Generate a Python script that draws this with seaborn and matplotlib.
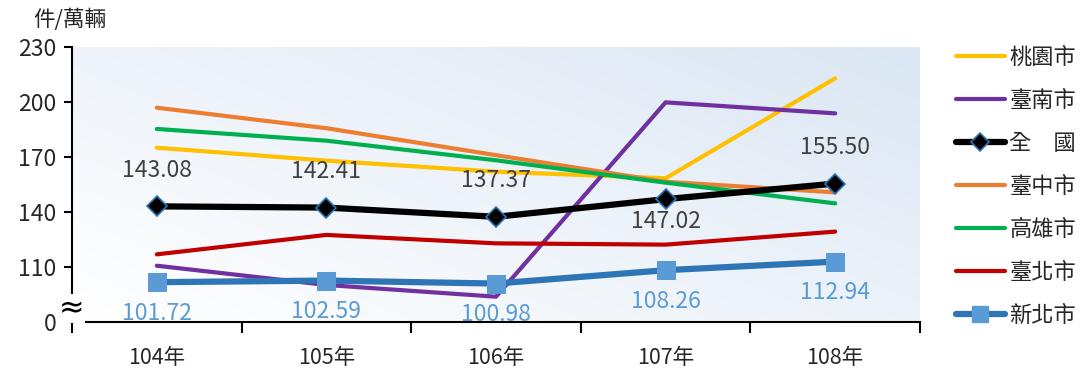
import numpy as np
import pandas as pd
import matplotlib
matplotlib.use('Agg')
import matplotlib.pyplot as plt
import seaborn as sns
from matplotlib.colors import LinearSegmentedColormap
from matplotlib.lines import Line2D

years = ['104年', '105年', '106年', '107年', '108年']

taoyuan = [175.1, 168.0, 162.0, 158.4, 212.9]
tainan = [110.7, 100.2, 93.8, 199.8, 193.8]
national = [143.08, 142.41, 137.37, 147.02, 155.50]
taichung = [196.9, 185.7, 171.0, 156.5, 150.7]
kaohsiung = [185.3, 178.9, 168.2, 156.0, 144.7]
taipei = [116.9, 127.5, 122.9, 122.2, 129.3]
new_taipei = [101.72, 102.59, 100.98, 108.26, 112.94]

ytick_values = [80, 110, 140, 170, 200, 230]
ytick_labels = ['0', '110', '140', '170', '200', '230']

# label above (+1) or below (-1) the national marker
national_label_side = [1, 1, 1, -1, 1]

sns.set_theme(style='white')
plt.rcParams['font.family'] = ['Noto Sans CJK TC', 'DejaVu Sans']

fig = plt.figure(figsize=(10.8, 3.72), dpi=100)
ax = fig.add_axes([72 / 1080, 1 - 322 / 372, 848 / 1080, 275 / 372])

# gradient background: white bottom-left to light blue top-right
cmap = LinearSegmentedColormap.from_list('bg', ['#ffffff', '#dbe7f4'])
gx, gy = np.meshgrid(np.linspace(0, 1, 200), np.linspace(0, 1, 200))
ax.imshow((gx * 0.55 + gy * 0.45), cmap=cmap, extent=[-0.5, 4.5, 80, 230],
          aspect='auto', origin='lower', zorder=0)

x = np.arange(len(years))
series = [
    ('桃園市', taoyuan, '#ffc000'),
    ('臺南市', tainan, '#7030a0'),
    ('臺中市', taichung, '#ed7d31'),
    ('高雄市', kaohsiung, '#00b050'),
    ('臺北市', taipei, '#c00000'),
]
for name, vals, col in series:
    sns.lineplot(x=x, y=vals, ax=ax, color=col, lw=3, zorder=3)

sns.lineplot(x=x, y=national, ax=ax, color='black', lw=4.5, marker='D',
             markersize=10, markerfacecolor='black', markeredgecolor='#2e75b6',
             markeredgewidth=1.2, zorder=5)
sns.lineplot(x=x, y=new_taipei, ax=ax, color='#2e75b6', lw=4.5, marker='s',
             markersize=13, markerfacecolor='#5b9bd5', markeredgecolor='#5b9bd5',
             zorder=6)

for i, v in enumerate(national):
    off = 36 if national_label_side[i] > 0 else -22
    ax.annotate(f'{v:.2f}', (x[i], v), xytext=(0, off), textcoords='offset pixels',
                ha='center', va='center', fontsize=16.5, color='#404040', zorder=7)
for i, v in enumerate(new_taipei):
    ax.annotate(f'{v:.2f}', (x[i], v), xytext=(0, -31), textcoords='offset pixels',
                ha='center', va='center', fontsize=16.5, color='#5b9bd5', zorder=7)

ax.set_xlim(-0.5, 4.5)
ax.set_ylim(80, 230)
ax.set_yticks(ytick_values)
ax.set_yticklabels(ytick_labels, fontsize=16.5, color='#262626')
ax.set_xticks(x)
ax.set_xticklabels(years, fontsize=15.5, color='#262626')
ax.set_xticks(np.arange(-0.5, 5, 1), minor=True)
ax.tick_params(axis='x', which='major', length=0, pad=18)
ax.tick_params(axis='x', which='minor', length=8, width=1.5, color='black', direction='out', bottom=True)
ax.tick_params(axis='y', length=6, width=1.5, color='black', direction='out', left=True, pad=5)

for s in ['top', 'right']:
    ax.spines[s].set_visible(False)
for s in ['left', 'bottom']:
    ax.spines[s].set_color('black')
    ax.spines[s].set_linewidth(1.5)
ax.grid(False)

# axis break mark
ax.text(-0.5, 87.5, '≈', ha='center', va='center', fontsize=22, color='black',
        family=['DejaVu Sans'], zorder=8,
        bbox=dict(boxstyle='square,pad=0', fc='white', ec='none'))

fig.text(70 / 1080, 1 - 20 / 372, '件/萬輛', ha='center', va='center', fontsize=15.5, color='#262626')

handles = [
    Line2D([], [], color='#ffc000', lw=3),
    Line2D([], [], color='#7030a0', lw=3),
    Line2D([], [], color='black', lw=4.5, marker='D', markersize=9,
           markerfacecolor='black', markeredgecolor='#2e75b6', markeredgewidth=1.2),
    Line2D([], [], color='#ed7d31', lw=3),
    Line2D([], [], color='#00b050', lw=3),
    Line2D([], [], color='#c00000', lw=3),
    Line2D([], [], color='#2e75b6', lw=4.5, marker='s', markersize=12,
           markerfacecolor='#5b9bd5', markeredgecolor='#5b9bd5'),
]
labels = ['桃園市', '臺南市', '全　國', '臺中市', '高雄市', '臺北市', '新北市']
fig.legend(handles, labels, loc='upper left', bbox_to_anchor=(956 / 1080, 1 - 46 / 372),
           frameon=False, fontsize=16, handlelength=2.2, handletextpad=0.2,
           labelspacing=0.9, borderaxespad=0, borderpad=0)

fig.savefig('out.png', dpi=100)
